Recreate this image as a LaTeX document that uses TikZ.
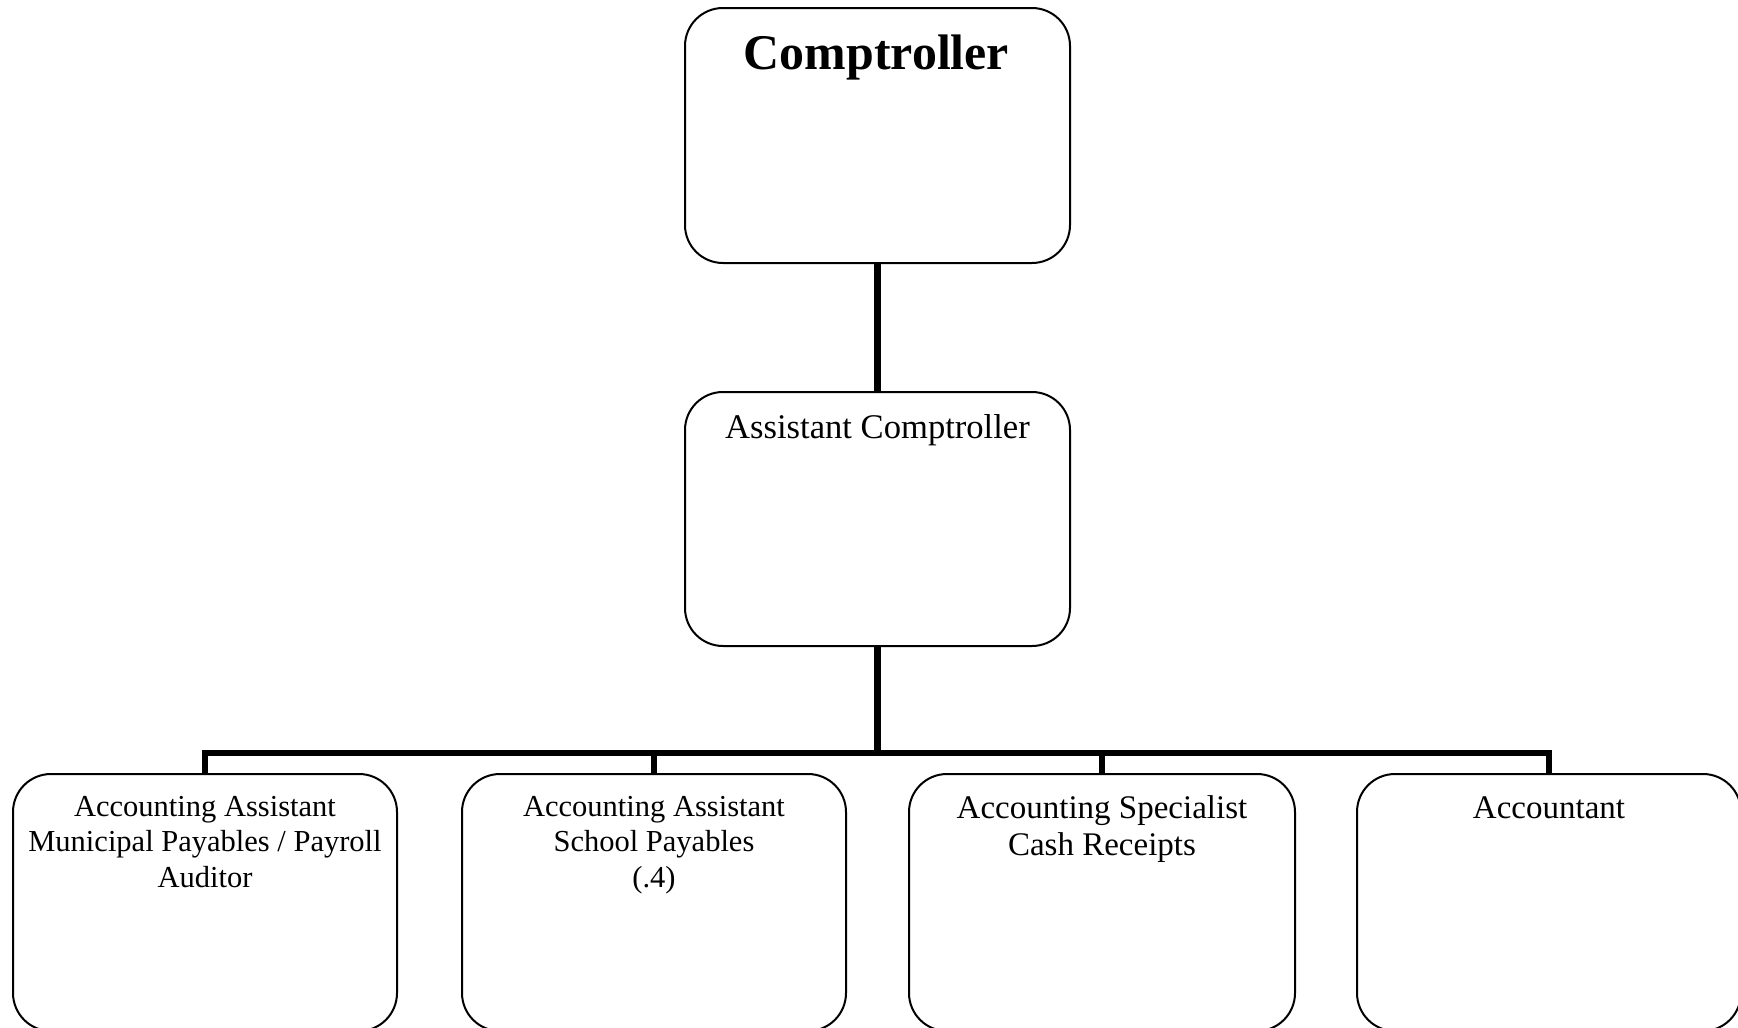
\documentclass[tikz,border=0pt]{standalone}
\usepackage{fontspec}
\setmainfont{Liberation Serif}
\begin{document}
\begin{tikzpicture}[x=1pt,y=-1pt,
  box/.style={draw, line width=2pt, rounded corners=38pt, minimum width=385pt, minimum height=255pt, inner sep=0pt},
  conn/.style={line width=6.5pt, line join=miter},
  boldlbl/.style={inner sep=0pt, font={\fontsize{49.9pt}{56pt}\selectfont\bfseries}},
  lblA/.style={inner sep=0pt, font={\fontsize{34.6pt}{40pt}\selectfont}},
  lblB/.style={inner sep=0pt, align=center, font={\fontsize{30.5pt}{35.5pt}\selectfont}},
  lblC/.style={inner sep=0pt, align=center, font={\fontsize{33pt}{37pt}\selectfont}}]
\useasboundingbox (0,0) rectangle (1738,1028);
\clip (0,0) rectangle (1738,1028);
% boxes
\node[box, minimum height=255pt] (top) at (877.5,135.5) {};
\node[box, minimum height=254pt] (asst) at (877.5,519) {};
\node[box, minimum width=384pt, minimum height=257pt] (b1) at (205,902.5) {};
\node[box, minimum width=384pt, minimum height=257pt] (b2) at (654,902.5) {};
\node[box, minimum width=386pt, minimum height=257pt] (b3) at (1102,902.5) {};
\node[box, minimum width=384pt, minimum height=257pt] (b4) at (1549,902.5) {};
% labels
\node[boldlbl, anchor=base] (topt) at (876.5,69) {Comptroller};
\node[lblA, anchor=base] (asstt) at (877.5,438) {Assistant Comptroller};
\node[lblB, anchor=north] (b1t) at (205,796) {Accounting Assistant\\Municipal Payables / Payroll\\Auditor};
\node[lblB, anchor=north] (b2t) at (654,796) {Accounting Assistant\\School Payables\\(.4)};
\node[lblC, anchor=north] (b3t) at (1102,795.5) {Accounting Specialist\\Cash Receipts};
\node[lblC, anchor=base] (b4t) at (1549,818) {Accountant};
% connectors
\coordinate (bar) at (877.5,753);
\draw[conn] (top.south) -- (asst.north);
\draw[conn] (asst.south) -- (bar);
\draw[conn] (b1.north) |- (bar);
\draw[conn] (b2.north) |- (bar);
\draw[conn] (b3.north) |- (bar);
\draw[conn] (b4.north) |- (bar);
\end{tikzpicture}
\end{document}
